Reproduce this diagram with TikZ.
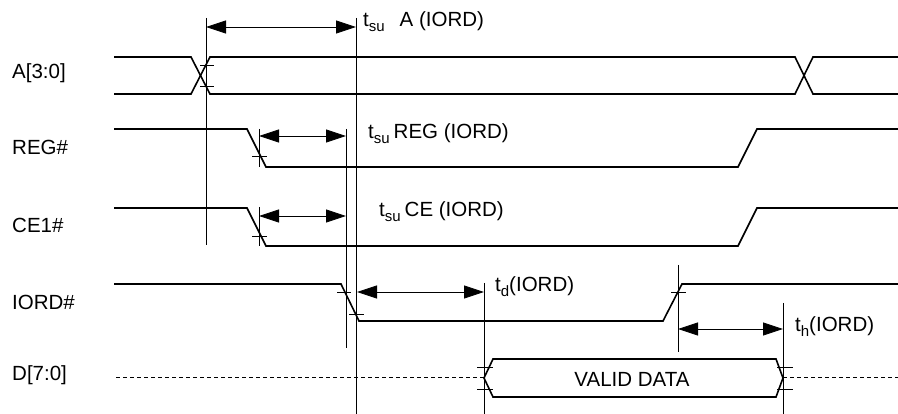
\documentclass[tikz,border=0pt]{standalone}
\usepackage{fontspec}
\setmainfont{Liberation Sans}
\usetikzlibrary{arrows.meta}
\newcommand{\tsub}[1]{\raisebox{-5pt}{\fontsize{15}{15}\selectfont #1}}

\begin{document}
\begin{tikzpicture}[x=1pt,y=-1pt,
  sig/.style={line width=1.6pt,line join=miter},
  guide/.style={line width=0.8pt},
  tickline/.style={line width=0.8pt},
  dim/.style={line width=0.8pt,{Triangle[length=20pt,width=13pt]}-{Triangle[length=20pt,width=13pt]}},
  lbl/.style={anchor=base west,inner sep=0pt,font=\fontsize{20.5}{25}\selectfont}]
\useasboundingbox (0,0) rectangle (898,414);
% A[3:0]
\draw[sig] (114,57) -- (191,57) -- (210,94) -- (795,94) -- (813,57) -- (898,57);
\draw[sig] (114,94) -- (191,94) -- (210,57) -- (795,57) -- (813,94) -- (898,94);
% REG#
\draw[sig] (114,129) -- (247,129) -- (266,167) -- (738,167) -- (757,129) -- (898,129);
% CE1#
\draw[sig] (114,208) -- (247,208) -- (266,246) -- (738,246) -- (757,208) -- (898,208);
% IORD#
\draw[sig] (114,284) -- (341,284) -- (359,321) -- (663,321) -- (682,284) -- (898,284);
% D[7:0]
\draw[line width=1pt,dash pattern=on 4pt off 3pt] (116,378) -- (484,378);
\draw[line width=1pt,dash pattern=on 4pt off 3pt] (783,378) -- (898,378);
\draw[sig] (484,378) -- (493,359) -- (776,359) -- (783,378) -- (776,397) -- (493,397) -- cycle;

% guides
\draw[guide] (206,18) -- (206,245);
\draw[guide] (356,18) -- (356,414);
\draw[guide] (259,129) -- (259,167);
\draw[guide] (259,207) -- (259,246);
\draw[guide] (346,129) -- (346,348);
\draw[guide] (484,283) -- (484,414);
\draw[guide] (678,265) -- (678,352);
\draw[guide] (783,303) -- (783,414);

% ticks
\draw[tickline] (200,65) -- ++(14,0);
\draw[tickline] (200,86) -- ++(14,0);
\draw[tickline] (252,156) -- ++(15,0);
\draw[tickline] (252,236) -- ++(15,0);
\draw[tickline] (337,292) -- ++(14,0);
\draw[tickline] (349,314) -- ++(15,0);
\draw[tickline] (671,292) -- ++(15,0);
\draw[tickline] (477,367) -- ++(16,0);
\draw[tickline] (477,389) -- ++(16,0);
\draw[tickline] (777,367) -- ++(16,0);
\draw[tickline] (777,389) -- ++(16,0);

% timings
\coordinate (a0) at (206,27);  \coordinate (a1) at (356,27);
\coordinate (r0) at (259,136); \coordinate (r1) at (346,136);
\coordinate (c0) at (259,216); \coordinate (c1) at (346,216);
\coordinate (d0) at (357,292); \coordinate (d1) at (484,292);
\coordinate (h0) at (678,329); \coordinate (h1) at (783,329);
\draw[dim] (a0) -- (a1);
\draw[dim] (r0) -- (r1);
\draw[dim] (c0) -- (c1);
\draw[dim] (d0) -- (d1);
\draw[dim] (h0) -- (h1);
\node[lbl] (tsuA) at (363,27) {t\tsub{su}\hspace{15pt}A (IORD)};
\node[lbl] (tsuREG) at (368,139) {t\tsub{su}\hspace{4pt}REG (IORD)};
\node[lbl] (tsuCE) at (379,217) {t\tsub{su}\hspace{4pt}CE (IORD)};
\node[lbl] (td) at (495,292) {t\tsub{d}(IORD)};
\node[lbl] (th) at (795,332) {t\tsub{h}(IORD)};
\node[lbl,anchor=base] (valid) at (632,387) {VALID DATA};

\node[lbl] (nameA) at (12,79) {A[3:0]};
\node[lbl] (nameREG) at (12,155) {REG\#};
\node[lbl] (nameCE) at (12,233) {CE1\#};
\node[lbl] (nameIORD) at (12,310) {IORD\#};
\node[lbl] (nameD) at (12,381) {D[7:0]};
\end{tikzpicture}
\end{document}
